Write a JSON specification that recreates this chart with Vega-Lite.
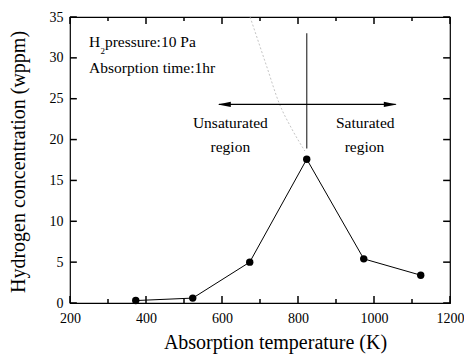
{
  "$schema": "https://vega.github.io/schema/vega-lite/v6.json",
  "width": 380,
  "height": 286,
  "autosize": "none",
  "padding": {"left": 70, "top": 17, "right": 14, "bottom": 52},
  "background": "white",
  "config": {
    "view": {"stroke": "black", "strokeWidth": 1.2},
    "font": "Liberation Serif",
    "axis": {
      "domain": false, "ticks": false, "labelColor": "black", "titleColor": "black",
      "labelFont": "Liberation Serif", "titleFont": "Liberation Serif",
      "labelFontSize": 14, "titleFontSize": 20, "titleFontWeight": "normal", "grid": false,
      "labelFlush": false, "labelOverlap": false
    }
  },
  "datasets": {
    "pts": [
      {"T": 373, "H": 0.3},
      {"T": 523, "H": 0.6},
      {"T": 673, "H": 5.0},
      {"T": 823, "H": 17.6},
      {"T": 973, "H": 5.4},
      {"T": 1123, "H": 3.4}
    ],
    "curve": [
      {"T": 674, "H": 35},
      {"T": 718, "H": 28.9},
      {"T": 750, "H": 24.5},
      {"T": 785, "H": 21.2},
      {"T": 818, "H": 18.6}
    ],
    "xmaj": [{"T": 200}, {"T": 400}, {"T": 600}, {"T": 800}, {"T": 1000}, {"T": 1200}],
    "xmin": [{"T": 300}, {"T": 500}, {"T": 700}, {"T": 900}, {"T": 1100}],
    "ymaj": [{"H": 0}, {"H": 5}, {"H": 10}, {"H": 15}, {"H": 20}, {"H": 25}, {"H": 30}, {"H": 35}]
  },
  "resolve": {"axis": {"x": "independent", "y": "independent"}},
  "layer": [
    {
      "data": {"name": "pts"},
      "mark": {"type": "line", "color": "black", "strokeWidth": 1},
      "encoding": {
        "x": {"field": "T", "type": "quantitative", "scale": {"domain": [200, 1200], "nice": false},
          "axis": {"orient": "bottom", "title": "Absorption temperature (K)",
            "values": [200, 400, 600, 800, 1000, 1200], "format": "d",
            "labelPadding": 8,
            "titleX": 205, "titleY": 45, "titleBaseline": "alphabetic", "titleAlign": "center"}},
        "y": {"field": "H", "type": "quantitative", "scale": {"domain": [0, 35], "nice": false, "zero": true},
          "axis": {"orient": "left", "title": "Hydrogen concentration (wppm)",
            "values": [0, 5, 10, 15, 20, 25, 30, 35], "format": "d", "labelPadding": 7,
            "titleX": -46, "titleY": 144.5, "titleAngle": -90, "titleBaseline": "alphabetic", "titleAlign": "center"}}
      }
    },
    {
      "data": {"name": "xmaj"},
      "mark": {"type": "rule", "color": "black", "strokeWidth": 1.5, "opacity": 1},
      "encoding": {
        "x": {"field": "T", "type": "quantitative", "axis": null},
        "y": {"datum": 0, "type": "quantitative", "axis": null},
        "y2": {"datum": 0.85}
      }
    },
    {
      "data": {"name": "xmaj"},
      "mark": {"type": "rule", "color": "black", "strokeWidth": 1.5, "opacity": 1},
      "encoding": {
        "x": {"field": "T", "type": "quantitative", "axis": null},
        "y": {"datum": 35, "type": "quantitative", "axis": null},
        "y2": {"datum": 34.15}
      }
    },
    {
      "data": {"name": "xmin"},
      "mark": {"type": "rule", "color": "black", "strokeWidth": 1.5, "opacity": 1},
      "encoding": {
        "x": {"field": "T", "type": "quantitative", "axis": null},
        "y": {"datum": 0, "type": "quantitative", "axis": null},
        "y2": {"datum": 0.5}
      }
    },
    {
      "data": {"name": "xmin"},
      "mark": {"type": "rule", "color": "black", "strokeWidth": 1.5, "opacity": 1},
      "encoding": {
        "x": {"field": "T", "type": "quantitative", "axis": null},
        "y": {"datum": 35, "type": "quantitative", "axis": null},
        "y2": {"datum": 34.5}
      }
    },
    {
      "data": {"name": "ymaj"},
      "mark": {"type": "rule", "color": "black", "strokeWidth": 1.5, "opacity": 1},
      "encoding": {
        "y": {"field": "H", "type": "quantitative", "axis": null},
        "x": {"datum": 200, "type": "quantitative", "axis": null},
        "x2": {"datum": 218}
      }
    },
    {
      "data": {"name": "ymaj"},
      "mark": {"type": "rule", "color": "black", "strokeWidth": 1.5, "opacity": 1},
      "encoding": {
        "y": {"field": "H", "type": "quantitative", "axis": null},
        "x": {"datum": 1200, "type": "quantitative", "axis": null},
        "x2": {"datum": 1182}
      }
    },
    {
      "data": {"name": "pts"},
      "mark": {"type": "point", "filled": true, "color": "black", "size": 55, "opacity": 1},
      "encoding": {
        "x": {"field": "T", "type": "quantitative", "axis": null},
        "y": {"field": "H", "type": "quantitative", "axis": null}
      }
    },
    {
      "data": {"name": "curve"},
      "mark": {"type": "line", "color": "#aaaaaa", "strokeWidth": 0.7, "strokeDash": [2, 2], "interpolate": "monotone", "clip": true},
      "encoding": {
        "x": {"field": "T", "type": "quantitative", "axis": null},
        "y": {"field": "H", "type": "quantitative", "axis": null}
      }
    },
    {
      "data": {"values": [{"T": 823, "H": 18.9, "H2": 33}]},
      "mark": {"type": "rule", "color": "#444444", "strokeWidth": 1.3},
      "encoding": {
        "x": {"field": "T", "type": "quantitative", "axis": null},
        "y": {"field": "H", "type": "quantitative", "axis": null},
        "y2": {"field": "H2"}
      }
    },
    {
      "data": {"values": [{"T": 592, "T2": 1057, "H": 24.3}]},
      "mark": {"type": "rule", "color": "black", "strokeWidth": 1.3},
      "encoding": {
        "x": {"field": "T", "type": "quantitative", "axis": null},
        "x2": {"field": "T2"},
        "y": {"field": "H", "type": "quantitative", "axis": null}
      }
    },
    {
      "data": {"values": [{"T": 1060, "H": 24.3}]},
      "mark": {"type": "point", "shape": "M-2,-0.4L0,0L-2,0.4Z", "filled": true, "color": "black", "size": 169, "opacity": 1},
      "encoding": {
        "x": {"field": "T", "type": "quantitative", "axis": null},
        "y": {"field": "H", "type": "quantitative", "axis": null}
      }
    },
    {
      "data": {"values": [{"T": 589, "H": 24.3}]},
      "mark": {"type": "point", "shape": "M2,-0.4L0,0L2,0.4Z", "filled": true, "color": "black", "size": 169, "opacity": 1},
      "encoding": {
        "x": {"field": "T", "type": "quantitative", "axis": null},
        "y": {"field": "H", "type": "quantitative", "axis": null}
      }
    },
    {
      "data": {"values": [
        {"T": 250, "H": 31.36, "label": "H"},
        {"T": 292, "H": 31.36, "label": "pressure:10 Pa"},
        {"T": 250, "H": 28.1, "label": "Absorption time:1hr"}
      ]},
      "mark": {"type": "text", "align": "left", "baseline": "alphabetic", "fontSize": 15.5, "font": "Liberation Serif", "color": "black"},
      "encoding": {
        "x": {"field": "T", "type": "quantitative", "axis": null},
        "y": {"field": "H", "type": "quantitative", "axis": null},
        "text": {"field": "label"}
      }
    },
    {
      "data": {"values": [{"T": 280, "H": 30.5, "label": "2"}]},
      "mark": {"type": "text", "align": "left", "baseline": "alphabetic", "fontSize": 9, "font": "Liberation Serif", "color": "black"},
      "encoding": {
        "x": {"field": "T", "type": "quantitative", "axis": null},
        "y": {"field": "H", "type": "quantitative", "axis": null},
        "text": {"field": "label"}
      }
    },
    {
      "data": {"values": [
        {"T": 622, "H": 21.46, "label": "Unsaturated"},
        {"T": 622, "H": 18.5, "label": "region"},
        {"T": 977, "H": 21.46, "label": "Saturated"},
        {"T": 975, "H": 18.5, "label": "region"}
      ]},
      "mark": {"type": "text", "align": "center", "baseline": "alphabetic", "fontSize": 15.5, "font": "Liberation Serif", "color": "black"},
      "encoding": {
        "x": {"field": "T", "type": "quantitative", "axis": null},
        "y": {"field": "H", "type": "quantitative", "axis": null},
        "text": {"field": "label"}
      }
    }
  ]
}
